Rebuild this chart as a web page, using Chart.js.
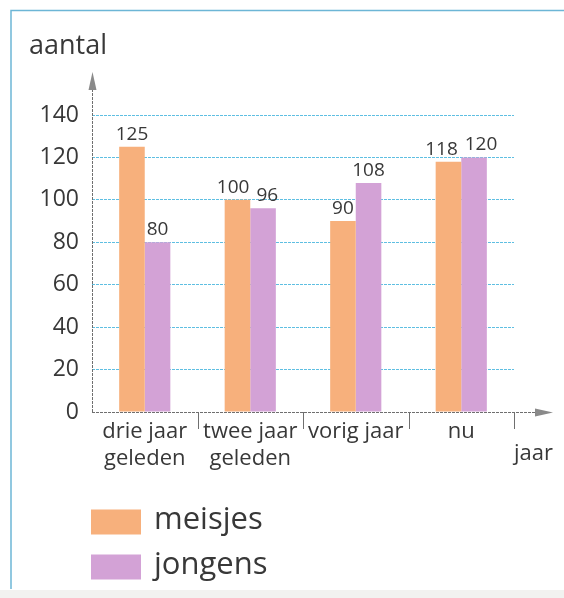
<!DOCTYPE html>
<html>
<head>
<meta charset="utf-8">
<script src="https://cdn.jsdelivr.net/npm/chart.js@4"></script>
<style>
  html, body { margin: 0; padding: 0; background: #ffffff; }
  #wrap { position: relative; width: 564px; height: 598px; overflow: hidden; }
  canvas { position: absolute; left: 0; top: 0; }
</style>
</head>
<body>
<div id="wrap"><canvas id="c" width="564" height="598"></canvas></div>
<script>
// Categories (years) and number of pupils per group
const categories = [["drie jaar", "geleden"], ["twee jaar", "geleden"], "vorig jaar", "nu"];
const meisjes = [125, 100, 90, 118];
const jongens = [80, 96, 108, 120];
const yTicks = [0, 20, 40, 60, 80, 100, 120, 140];
const seriesNames = ["meisjes", "jongens"];

const ORANGE = "#f7b07c";
const PURPLE = "#d3a2d6";
const GRID = "#5fbfe2";
const AXIS = "#6f6f6f";
const TEXT = "#383838";
const FONT = "'Open Sans', 'Noto Sans', sans-serif";

// Frame, arrows, axis captions, category separators, value labels and legend
const decor = {
  id: "decor",
  beforeDraw(chart) {
    const ctx = chart.ctx;
    ctx.save();
    ctx.fillStyle = "#ffffff";
    ctx.fillRect(0, 0, chart.width, chart.height);
    ctx.fillStyle = "#f2f2f0";
    ctx.fillRect(0, 590, chart.width, chart.height - 590);
    ctx.fillStyle = "#ffffff";
    ctx.fillRect(11, 10, chart.width - 11, 580);
    ctx.strokeStyle = "#6db6d6";
    ctx.lineWidth = 1.5;
    ctx.beginPath();
    ctx.moveTo(11, 589);
    ctx.lineTo(11, 10.5);
    ctx.lineTo(chart.width, 10.5);
    ctx.stroke();
    ctx.restore();
  },
  afterDatasetsDraw(chart) {
    const ctx = chart.ctx;
    const area = chart.chartArea;
    const x = chart.scales.x;
    const y = chart.scales.y;
    const y0 = y.getPixelForValue(0);
    ctx.save();

    // axes with arrow heads
    ctx.strokeStyle = AXIS;
    ctx.fillStyle = "#8a8a8a";
    ctx.lineWidth = 1;
    ctx.setLineDash([3, 1]);
    ctx.beginPath();
    ctx.moveTo(area.left + 0.5, y0);
    ctx.lineTo(area.left + 0.5, 84);
    ctx.moveTo(area.left, y0 + 0.5);
    ctx.lineTo(540, y0 + 0.5);
    ctx.stroke();
    ctx.setLineDash([]);
    ctx.beginPath();
    ctx.moveTo(area.left + 0.5, 72);
    ctx.lineTo(area.left - 3.5, 90);
    ctx.lineTo(area.left + 4.5, 90);
    ctx.closePath();
    ctx.fill();
    ctx.beginPath();
    ctx.moveTo(553, y0 + 0.5);
    ctx.lineTo(535, y0 - 3.5);
    ctx.lineTo(535, y0 + 4.5);
    ctx.closePath();
    ctx.fill();

    // separators between categories
    const step = x.getPixelForValue(1) - x.getPixelForValue(0);
    ctx.strokeStyle = AXIS;
    ctx.beginPath();
    for (let i = 0; i < categories.length; i++) {
      const px = Math.round(x.getPixelForValue(i) + step / 2) + 0.5;
      ctx.moveTo(px, y0);
      ctx.lineTo(px, y0 + 17);
    }
    ctx.stroke();

    // axis captions
    ctx.fillStyle = TEXT;
    ctx.font = "27px " + FONT;
    ctx.textAlign = "left";
    ctx.textBaseline = "middle";
    ctx.fillText("aantal", 29, 46);
    ctx.font = "22px " + FONT;
    ctx.fillText("jaar", 514, 454);

    // value labels above the bars, pushed apart where a pair would touch
    ctx.font = "19px " + FONT;
    ctx.textAlign = "center";
    ctx.textBaseline = "bottom";
    const m0 = chart.getDatasetMeta(0).data;
    const m1 = chart.getDatasetMeta(1).data;
    m0.forEach((b0, i) => {
      const b1 = m1[i];
      const t0 = String(meisjes[i]);
      const t1 = String(jongens[i]);
      const w0 = ctx.measureText(t0).width;
      const w1 = ctx.measureText(t1).width;
      let x0 = b0.x, x1 = b1.x;
      const gap = 7;
      const overlap = (x0 + w0 / 2 + gap) - (x1 - w1 / 2);
      const closeY = Math.abs(b0.y - b1.y) < 22;
      if (closeY && overlap > 0) {
        x0 -= overlap / 2;
        x1 += overlap / 2;
      }
      ctx.fillText(t0, x0, b0.y - 3);
      ctx.fillText(t1, x1, b1.y - 3);
    });

    // legend
    const colors = [ORANGE, PURPLE];
    const rows = [522, 567];
    ctx.font = "31px " + FONT;
    ctx.textAlign = "left";
    ctx.textBaseline = "middle";
    seriesNames.forEach((name, i) => {
      ctx.fillStyle = colors[i];
      ctx.fillRect(91, rows[i] - 12.5, 50, 25);
      ctx.fillStyle = TEXT;
      ctx.fillText(name, 154, rows[i] - 2);
    });
    ctx.restore();
  }
};

new Chart(document.getElementById("c"), {
  type: "bar",
  data: {
    labels: categories,
    datasets: [
      { label: seriesNames[0], data: meisjes, backgroundColor: ORANGE },
      { label: seriesNames[1], data: jongens, backgroundColor: PURPLE }
    ]
  },
  options: {
    responsive: false,
    animation: false,
    devicePixelRatio: 1,
    layout: { padding: { left: 32, right: 50, top: 115, bottom: 106 } },
    datasets: { bar: { categoryPercentage: 0.485, barPercentage: 1 } },
    plugins: { legend: { display: false }, tooltip: { enabled: false } },
    scales: {
      x: {
        afterFit(scale) { scale.height = 80; },
        grid: { display: false, drawTicks: false },
        border: { display: false },
        ticks: { color: TEXT, font: { family: FONT, size: 22 }, padding: 7, maxRotation: 0, autoSkip: false }
      },
      y: {
        min: 0,
        max: 140,
        afterFit(scale) { scale.width = 60; },
        afterBuildTicks(scale) { scale.ticks = yTicks.map(v => ({ value: v })); },
        grid: {
          color: (c) => c.tick && c.tick.value === 0 ? "rgba(0,0,0,0)" : GRID,
          lineWidth: 1,
          drawTicks: false
        },
        border: { display: false, dash: [3, 1] },
        ticks: { color: TEXT, font: { family: FONT, size: 23 }, padding: 13 }
      }
    }
  },
  plugins: [decor]
});
</script>
</body>
</html>
